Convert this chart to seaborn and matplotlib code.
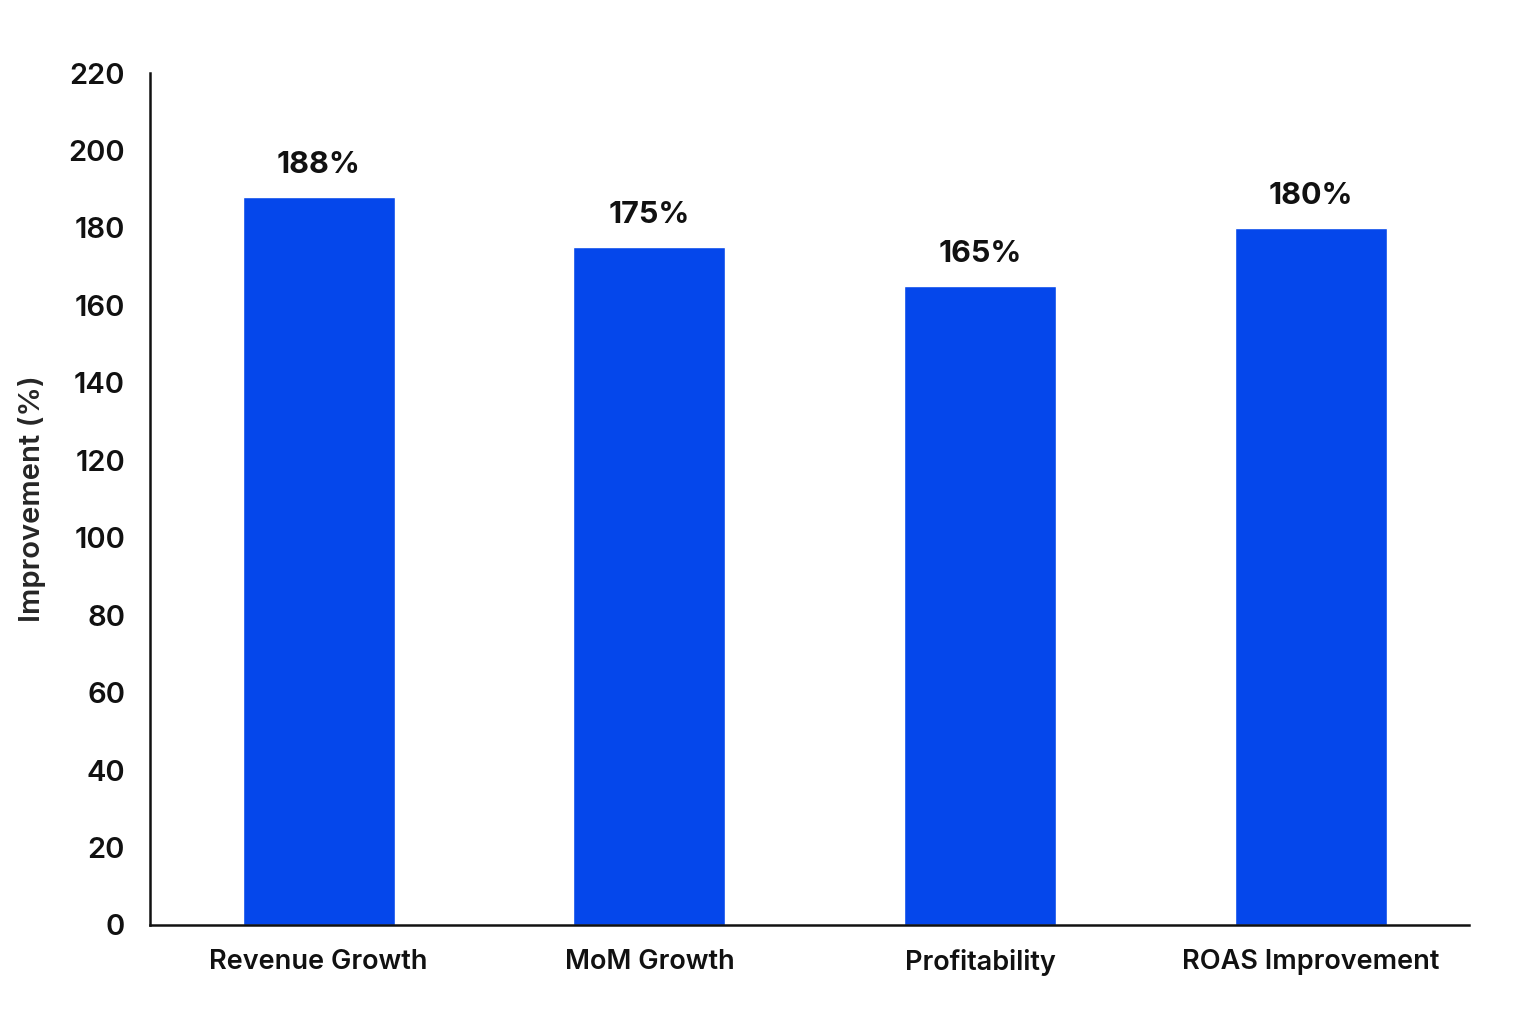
import matplotlib
matplotlib.use("Agg")
import matplotlib.pyplot as plt
import seaborn as sns
import pandas as pd

categories = ["Revenue Growth", "MoM Growth", "Profitability", "ROAS Improvement"]
values = [188, 175, 165, 180]
bar_labels = ["188%", "175%", "165%", "180%"]
y_ticks = list(range(0, 221, 20))

df = pd.DataFrame({"metric": categories, "improvement": values})

sns.set_style("white")
plt.rcParams["font.family"] = ["Inter", "DejaVu Sans"]

fig = plt.figure(figsize=(15.36, 10.24), dpi=100)
ax = fig.add_axes([0.0977, 0.0967, 0.859, 0.832])

sns.barplot(data=df, x="metric", y="improvement", color="#0547EB",
            saturation=1, width=0.46, ax=ax)

ax.bar_label(ax.containers[0], labels=bar_labels, padding=13,
             fontsize=22, fontweight="bold", color="#111111")

ax.set_ylim(0, 220)
ax.set_xlim(-0.51, 3.48)
ax.set_yticks(y_ticks)
ax.set_xlabel("")
ax.set_ylabel("Improvement (%)", fontsize=21, fontweight="semibold", labelpad=16)

ax.tick_params(axis="y", length=8, width=1.5, pad=10, labelsize=21, color="#111111")
ax.tick_params(axis="x", length=0, pad=17, labelsize=19.5)
for lab in ax.get_xticklabels() + ax.get_yticklabels():
    lab.set_fontweight("semibold")
    lab.set_color("#111111")

for side in ["top", "right"]:
    ax.spines[side].set_visible(False)
for side in ["left", "bottom"]:
    ax.spines[side].set_linewidth(1.8)
    ax.spines[side].set_color("#111111")

fig.savefig("out.png", dpi=100, facecolor="white")
